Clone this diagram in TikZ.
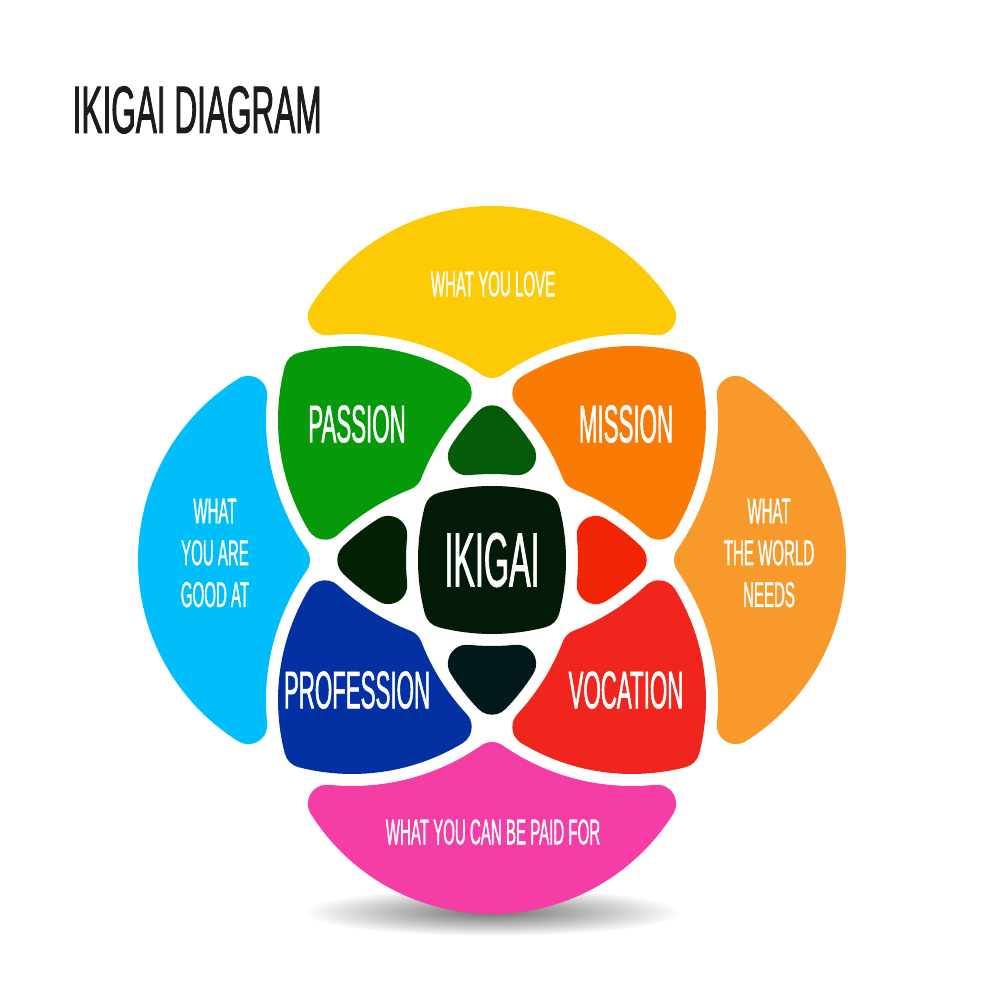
\documentclass[tikz,border=0pt]{standalone}
\usepackage{fontspec}
\setmainfont{Liberation Sans}
\newfontfamily\condfont[FakeStretch=0.42,FakeBold=0.9]{Liberation Sans}
\newfontfamily\headfont[FakeStretch=0.47,FakeBold=1.2]{Liberation Sans}
\usepackage{xcolor}
\usepackage{tikz}
\usetikzlibrary{positioning}

\definecolor{loveyellow}{RGB}{253,203,5}
\definecolor{goodblue}{RGB}{0,190,250}
\definecolor{needsorange}{RGB}{247,153,43}
\definecolor{paidpink}{RGB}{245,62,165}
\definecolor{passiongreen}{RGB}{6,154,10}
\definecolor{missionorange}{RGB}{249,123,5}
\definecolor{professionblue}{RGB}{4,49,162}
\definecolor{vocationred}{RGB}{240,38,30}
\definecolor{topdark}{RGB}{6,91,11}
\definecolor{rightred}{RGB}{241,36,5}
\definecolor{bottomdark}{RGB}{3,24,24}
\definecolor{leftdark}{RGB}{5,32,5}
\definecolor{ikigaiblack}{RGB}{3,26,8}
\definecolor{headgray}{RGB}{28,28,28}

\def\rr{22.0}
\def\hg{0.6}
\def\rf{1.9}

% corner between circle i and circle j (s=1 inside, s=-1 outside)
\newcommand\corner[8]{%
  \pgfmathsetmacro\ikai{\rr-(#4)*\hg}%
  \pgfmathsetmacro\ikaj{\rr-(#7)*\hg}%
  \pgfmathsetmacro\ikri{\ikai-(#4)*\rf}%
  \pgfmathsetmacro\ikrj{\ikaj-(#7)*\rf}%
  \pgfmathsetmacro\ikdx{(#5)-(#2)}%
  \pgfmathsetmacro\ikdy{(#6)-(#3)}%
  \pgfmathsetmacro\ikd{veclen(\ikdx,\ikdy)}%
  \pgfmathsetmacro\ikla{(\ikri*\ikri-\ikrj*\ikrj+\ikd*\ikd)/(2*\ikd)}%
  \pgfmathsetmacro\ikh{sqrt(max(\ikri*\ikri-\ikla*\ikla,0))}%
  \pgfmathsetmacro\ikfx{(#2)+(\ikla*\ikdx-(#8)*\ikh*\ikdy)/\ikd}%
  \pgfmathsetmacro\ikfy{(#3)+(\ikla*\ikdy+(#8)*\ikh*\ikdx)/\ikd}%
  \pgfmathsetmacro\ikti{atan2(\ikfy-(#3),\ikfx-(#2))}%
  \pgfmathsetmacro\iktj{atan2(\ikfy-(#6),\ikfx-(#5))}%
  \pgfmathsetmacro\ikfa{\ikti+90*(1-(#4))}%
  \pgfmathsetmacro\ikfb{\iktj+90*(1-(#7))}%
  \pgfmathsetmacro\ikfd{mod(\ikfb-\ikfa+720,360)}%
  \pgfmathsetmacro\ikpx{(#2)+\ikai*cos(\ikti)}%
  \pgfmathsetmacro\ikpy{(#3)+\ikai*sin(\ikti)}%
  \expandafter\xdef\csname #1ti\endcsname{\ikti}%
  \expandafter\xdef\csname #1tj\endcsname{\iktj}%
  \expandafter\xdef\csname #1fa\endcsname{\ikfa}%
  \expandafter\xdef\csname #1fd\endcsname{\ikfd}%
  \expandafter\xdef\csname #1aj\endcsname{\ikaj}%
  \expandafter\xdef\csname #1sj\endcsname{#7}%
  \expandafter\xdef\csname #1px\endcsname{\ikpx}%
  \expandafter\xdef\csname #1py\endcsname{\ikpy}%
}
\newcommand\seg[2]{%
  \pgfmathsetmacro\ikdel{mod(\csname #2ti\endcsname-(\csname #1tj\endcsname)+720,360)-180*(1-(\csname #1sj\endcsname))}%
  \expandafter\xdef\csname #1sd\endcsname{\ikdel}%
}
\newcommand\addcorner[1]{%
  \xdef\ikpath{\ikpath arc[start angle=\csname #1fa\endcsname, delta angle=\csname #1fd\endcsname, radius=\rf]
    arc[start angle=\csname #1tj\endcsname, delta angle=\csname #1sd\endcsname, radius=\csname #1aj\endcsname]}%
}
\newcommand\region[3]{%
  \gdef\ikpath{}%
  \foreach \ikc in {#3}{\expandafter\addcorner\expandafter{\ikc}}%
  \edef\ikcmd{\noexpand\fill[#1] (\csname #2px\endcsname,\csname #2py\endcsname) \ikpath;}%
  \ikcmd
}

% circles: T (0,14), B (0,-14), L (-14,0), R (14,0)
\corner{oa}{0}{14}{1}{-14}{0}{-1}{-1}
\corner{ob}{-14}{0}{-1}{14}{0}{-1}{1}
\corner{oc}{14}{0}{-1}{0}{14}{1}{-1}
\seg{oa}{ob}\seg{ob}{oc}\seg{oc}{oa}

\corner{pa}{14}{0}{-1}{-14}{0}{1}{-1}
\corner{pb}{-14}{0}{1}{0}{14}{1}{1}
\corner{pc}{0}{14}{1}{0}{-14}{-1}{-1}
\corner{pd}{0}{-14}{-1}{14}{0}{-1}{1}
\seg{pa}{pb}\seg{pb}{pc}\seg{pc}{pd}\seg{pd}{pa}

\corner{ta}{14}{0}{1}{0}{-14}{-1}{-1}
\corner{tb}{0}{-14}{-1}{-14}{0}{1}{-1}
\corner{tc}{-14}{0}{1}{14}{0}{1}{1}
\seg{ta}{tb}\seg{tb}{tc}\seg{tc}{ta}

\corner{ca}{0}{14}{1}{-14}{0}{1}{1}
\corner{cb}{-14}{0}{1}{0}{-14}{1}{1}
\corner{cc}{0}{-14}{1}{14}{0}{1}{1}
\corner{cd}{14}{0}{1}{0}{14}{1}{1}
\seg{ca}{cb}\seg{cb}{cc}\seg{cc}{cd}\seg{cd}{ca}

\begin{document}
\begin{tikzpicture}[x=0.1cm, y=0.1cm,
                          outertext/.style={white, align=center, inner sep=0pt,
                            font=\condfont\fontsize{10.2}{11.9}\selectfont},
                          innertext/.style={white, inner sep=0pt,
                            font=\condfont\fontsize{15.1}{16}\selectfont},
                          centertext/.style={white, inner sep=0pt,
                            font=\condfont\fontsize{21.9}{24}\selectfont},
                          headtext/.style={headgray, inner sep=0pt,
                            font=\headfont\fontsize{19.1}{20}\selectfont},
                         ]

\useasboundingbox (-49.2,-44) rectangle (50.8,56);

\shade[inner color=black!55, outer color=white] (0,-35.2) ellipse (19 and 2.4);

\foreach \ang/\outcol/\pairtone/\tritone in {0/loveyellow/passiongreen/topdark,
    90/goodblue/professionblue/leftdark, 180/paidpink/vocationred/bottomdark,
    270/needsorange/missionorange/rightred}{
  \begin{scope}[rotate=\ang]
    \region{\outcol}{oa}{oa,ob,oc}
    \region{\pairtone}{pa}{pa,pb,pc,pd}
    \region{\tritone}{ta}{ta,tb,tc}
  \end{scope}
}
\region{ikigaiblack}{ca}{ca,cb,cc,cd}

\node[headtext, anchor=base west] (title) at (-42,42.7) {IKIGAI DIAGRAM};

\node[outertext] (love) at (0.1,27.6) {WHAT YOU LOVE};
\node[outertext] (good) at (-27.7,0.7) {WHAT\\YOU ARE\\GOOD AT};
\node[outertext] (needs) at (27.7,0.7) {WHAT\\THE WORLD\\NEEDS};
\node[outertext] (paid) at (0.1,-27.2) {WHAT YOU CAN BE PAID FOR};

\node[innertext] (passion) at (-13.5,13.6) {PASSION};
\node[innertext] (mission) at (13.4,13.6) {MISSION};
\node[innertext] (profession) at (-13.5,-13) {PROFESSION};
\node[innertext] (vocation) at (13.4,-13) {VOCATION};

\node[centertext] (ikigai) at (0,0) {IKIGAI};

\end{tikzpicture}
\end{document}
